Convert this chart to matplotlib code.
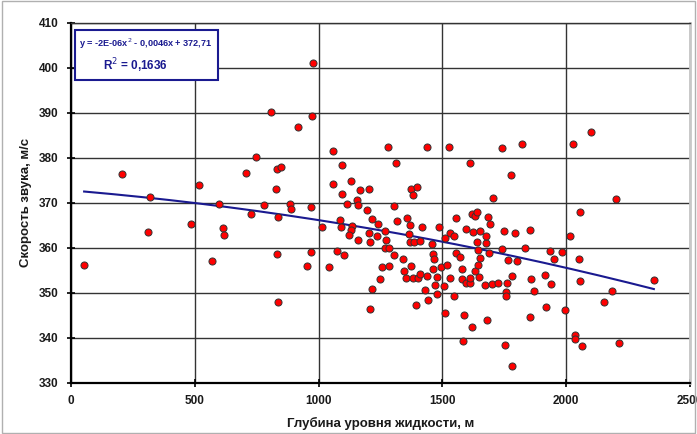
import matplotlib
matplotlib.use("Agg")
import matplotlib.pyplot as plt
from matplotlib import font_manager
import numpy as np
from matplotlib.patches import Rectangle

plt.rcParams['font.family'] = ['Liberation Sans', 'DejaVu Sans']

depth = [53, 204, 312, 321, 485, 518, 571, 597, 613, 617, 708, 725, 749, 780, 807, 826, 830, 833, 850, 838, 838,
         918, 972, 978, 1058, 1281, 1437, 1525, 1610, 1093, 1313, 1057, 1132, 1169, 1204, 1375, 1398, 1381, 1093, 1157,
         883, 887, 968, 1116, 1161, 1304, 1196, 1086, 1215, 1014, 1090, 1136, 1130, 1124, 1239, 1317, 1359, 1369, 1416,
         1486, 1556, 1619, 1632, 1640, 1685, 1694, 1596, 1623, 1653, 1529, 1547, 1509, 1203, 1236, 1269, 1271, 1366,
         1161, 1206, 1268, 1286, 1368, 1385, 1408, 1457, 1464, 1466, 1304, 971, 1074, 1101, 1342, 952, 1042, 1258, 1285,
         1246, 1214, 1206, 1372, 1344, 1352, 1380, 1400, 1408, 1438, 1431, 1443, 1394, 1462, 1493, 1517, 1478, 1471,
         1478, 1506, 1530, 1548, 1509, 1555, 1572, 1580, 1580, 1595, 1612, 1610, 1630, 1649, 1642, 1651, 1645, 1640,
         1675, 1677, 1588, 1619, 1584, 1681, 1672, 1699, 1724, 1687, 1741, 1835, 1934, 1983, 1951, 2051, 1766, 1802,
         1780, 1857, 1913, 1939, 1759, 1756, 1755, 1870, 2057, 2184, 2354, 2153, 1917, 1996, 1854, 2034, 2034, 2065,
         2215, 1752, 1783, 2099, 2027, 1822, 1741, 1776, 1705, 2202, 2057, 1749, 1795, 1854, 2015]
speed = [356.2, 376.3, 363.5, 371.3, 365.3, 373.8, 357.0, 369.7, 364.4, 362.7, 376.6, 367.5, 380.2, 369.4, 390.2,
         373.1, 358.6, 377.4, 377.9, 366.9, 347.9, 386.8, 389.2, 401.0, 381.5, 382.4, 382.4, 382.4, 378.7, 378.3,
         378.7, 374.2, 374.7, 372.9, 373.0, 373.0, 373.4, 371.6, 371.9, 370.6, 369.8, 368.6, 369.0, 369.7, 369.4,
         369.3, 368.3, 366.1, 366.3, 364.6, 364.6, 364.9, 363.9, 362.8, 365.3, 365.9, 366.5, 365.0, 364.6, 364.6,
         366.5, 367.5, 367.1, 368.0, 366.8, 365.3, 364.2, 363.4, 363.7, 363.3, 362.5, 362.2, 363.3, 362.5, 363.6,
         361.8, 363.0, 361.6, 361.2, 360.0, 360.0, 361.3, 361.2, 361.5, 360.9, 358.5, 357.4, 358.4, 359.0, 359.3,
         358.3, 357.5, 356.0, 355.6, 355.6, 356.0, 353.0, 350.8, 346.4, 356.0, 354.7, 353.3, 353.2, 353.2, 354.1,
         353.7, 350.6, 348.3, 347.2, 355.2, 355.8, 356.2, 353.4, 351.8, 349.6, 351.4, 353.2, 349.3, 345.4, 358.8,
         357.9, 355.2, 353.0, 352.1, 352.2, 353.3, 354.7, 353.4, 356.2, 357.7, 359.5, 361.2, 361.0, 362.6, 345.0,
         342.3, 339.3, 344.0, 351.7, 351.9, 352.1, 358.8, 359.6, 360.0, 359.2, 359.0, 357.5, 357.4, 357.2, 357.0,
         353.6, 353.0, 354.0, 351.9, 352.1, 350.2, 349.3, 350.4, 352.5, 350.4, 352.8, 347.9, 346.8, 346.2, 344.6,
         340.7, 339.7, 338.2, 338.8, 338.4, 333.6, 385.6, 383.0, 383.0, 382.1, 376.2, 371.0, 370.8, 368.0, 363.7,
         363.3, 363.9, 362.6]

trend_coef = [-2e-06, -0.0046, 372.71]
eq_text = "y = -2E-06x$^{2}$ - 0,0046x + 372,71"
r2_text = "R$^{2}$ = 0,1636"
xlabel = "Глубина уровня жидкости, м"
ylabel = "Скорость звука, м/с"
xticks = [0, 500, 1000, 1500, 2000, 2500]
yticks = [330, 340, 350, 360, 370, 380, 390, 400, 410]

# narrow font for the equation if available
try:
    font_manager.findfont('Liberation Sans Narrow', fallback_to_default=False)
    eq_family, eq_size = ['Liberation Sans Narrow', 'Liberation Sans'], 8.0
except Exception:
    eq_family, eq_size = ['Liberation Sans', 'DejaVu Sans'], 6.6

fig = plt.figure(figsize=(6.97, 4.34), dpi=100)
fig.patches.append(Rectangle((0.003, 0.003), 0.994, 0.994, transform=fig.transFigure,
                             fill=False, edgecolor='#b0b0b0', linewidth=1.0))
L, R, T, B = 71, 690, 22.5, 382.7
ax = fig.add_axes([L/697, 1-B/434, (R-L)/697, (B-T)/434])

def axfrac(px, py):
    return (px - L) / (R - L), (B - py) / (B - T)

ax.set_xlim(0, 2500)
ax.set_ylim(330, 410)
ax.set_xticks(xticks)
ax.set_yticks(yticks)
ax.grid(True, color='#333333', linewidth=1.0)
ax.set_axisbelow(True)

xs = np.linspace(min(depth), max(depth), 200)
ax.plot(xs, np.polyval(trend_coef, xs), color='#1a1a90', linewidth=1.5, zorder=2)
ax.scatter(depth, speed, s=26, c='#ff0000', edgecolors='#333333', linewidths=0.7, zorder=3)

for s in ['left', 'bottom']:
    ax.spines[s].set_color('black')
    ax.spines[s].set_linewidth(1.6)
ax.spines['top'].set_color('#333333')
ax.spines['top'].set_linewidth(1.0)
ax.spines['right'].set_color('#c8c8c8')
ax.spines['right'].set_linewidth(2.0)

ax.tick_params(direction='inout', length=6, width=1.2, color='black', labelsize=8.5, pad=6)
for lbl in ax.get_xticklabels() + ax.get_yticklabels():
    lbl.set_fontweight('bold')
    lbl.set_color('#1a1a1a')

ax.set_xlabel(xlabel, fontsize=9.5, fontweight='bold', labelpad=7, color='#1a1a1a')
ax.set_ylabel(ylabel, fontsize=9.5, fontweight='bold', labelpad=5, color='#1a1a1a')

# equation box
bx0, by0 = axfrac(75, 80)
bx1, by1 = axfrac(218, 29.5)
ax.add_patch(Rectangle((bx0, by0), bx1 - bx0, by1 - by0, transform=ax.transAxes,
                       facecolor='white', edgecolor='#1a1a90', linewidth=1.5, zorder=4))
tx, ty = axfrac(146, 44)
ax.text(tx, ty, eq_text, transform=ax.transAxes, ha='center', va='center',
        fontsize=eq_size, fontweight='bold', color='#1a1a90', zorder=5, family=eq_family)
tx, ty = axfrac(135, 66)
ax.text(tx, ty, r2_text, transform=ax.transAxes, ha='center', va='center',
        fontsize=8.5, fontweight='bold', color='#1a1a90', zorder=5)

fig.savefig('out.png', dpi=100)
